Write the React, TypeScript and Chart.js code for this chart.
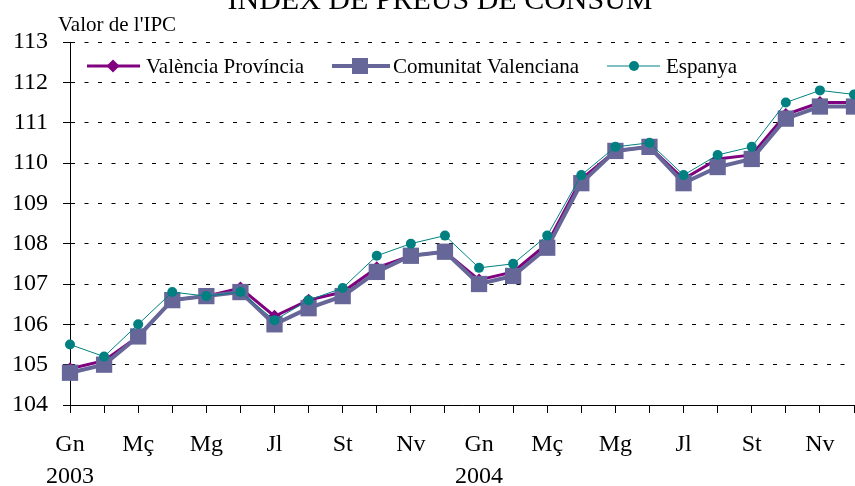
import React, { useEffect, useRef } from "react";
import { Chart, registerables } from "chart.js";

Chart.register(...registerables);

const months = ["Gn", "Fb", "Mç", "Ab", "Mg", "Jn", "Jl", "Ag", "St", "Oc", "Nv", "Dc"];
const years = ["2003", "2004"];
const categories = years.flatMap((y) => months.map((m) => `${m} ${y}`));

const valenciaProvincia = [104.9, 105.1, 105.7, 106.6, 106.7, 106.9, 106.2, 106.6, 106.8, 107.4, 107.7, 107.8, 107.1, 107.3, 108.0, 109.6, 110.3, 110.4, 109.6, 110.1, 110.2, 111.2, 111.5, 111.5];
const comunitatValenciana = [104.8, 105.0, 105.7, 106.6, 106.7, 106.8, 106.0, 106.4, 106.7, 107.3, 107.7, 107.8, 107.0, 107.2, 107.9, 109.5, 110.3, 110.4, 109.5, 109.9, 110.1, 111.1, 111.4, 111.4];
const espanya = [105.5, 105.2, 106.0, 106.8, 106.7, 106.8, 106.1, 106.6, 106.9, 107.7, 108.0, 108.2, 107.4, 107.5, 108.2, 109.7, 110.4, 110.5, 109.7, 110.2, 110.4, 111.5, 111.8, 111.7];

const titleText = "ÍNDEX DE PREUS DE CONSUM";
const yAxisTitle = "Valor de l'IPC";
const seriesNames = ["València Província", "Comunitat Valenciana", "Espanya"];

const FONT = "'Liberation Serif', 'Times New Roman', serif";
const PURPLE = "#800080";
const SLATE = "#666699";
const TEAL = "#008080";

const decorPlugin = {
  id: "decor",
  afterDraw(chart: any) {
    const ctx = chart.ctx;
    ctx.save();
    ctx.fillStyle = "#000";
    ctx.textBaseline = "alphabetic";
    ctx.font = `30px ${FONT}`;
    ctx.textAlign = "center";
    ctx.fillText(titleText, 440, 9);
    ctx.font = `21px ${FONT}`;
    ctx.textAlign = "left";
    ctx.fillText(yAxisTitle, 58, 31);

    // legend
    const ly = 66;
    ctx.textBaseline = "middle";
    // item 1
    ctx.strokeStyle = PURPLE;
    ctx.lineWidth = 3;
    ctx.beginPath();
    ctx.moveTo(87, ly);
    ctx.lineTo(140, ly);
    ctx.stroke();
    ctx.fillStyle = PURPLE;
    ctx.beginPath();
    ctx.moveTo(113 - 6.5, ly);
    ctx.lineTo(113, ly - 6.5);
    ctx.lineTo(113 + 6.5, ly);
    ctx.lineTo(113, ly + 6.5);
    ctx.closePath();
    ctx.fill();
    ctx.fillStyle = "#000";
    ctx.fillText(seriesNames[0], 146, ly + 1);
    // item 2
    ctx.strokeStyle = SLATE;
    ctx.lineWidth = 4;
    ctx.beginPath();
    ctx.moveTo(332, ly);
    ctx.lineTo(390, ly);
    ctx.stroke();
    ctx.fillStyle = SLATE;
    ctx.fillRect(360 - 8, ly - 8, 16, 16);
    ctx.fillStyle = "#000";
    ctx.fillText(seriesNames[1], 393, ly + 1);
    // item 3
    ctx.strokeStyle = TEAL;
    ctx.lineWidth = 1;
    ctx.beginPath();
    ctx.moveTo(607, ly);
    ctx.lineTo(660, ly);
    ctx.stroke();
    ctx.fillStyle = TEAL;
    ctx.beginPath();
    ctx.arc(634, ly, 5, 0, Math.PI * 2);
    ctx.fill();
    ctx.fillStyle = "#000";
    ctx.fillText(seriesNames[2], 666, ly + 1);
    ctx.restore();
  },
};

export default function App() {
  const ref = useRef<HTMLCanvasElement>(null);
  useEffect(() => {
    const canvas = ref.current;
    if (!canvas) return;
    const chart = new Chart(canvas, {
      type: "line",
      data: {
        labels: categories,
        datasets: [
          {
            label: seriesNames[2],
            data: espanya,
            borderColor: TEAL,
            backgroundColor: TEAL,
            borderWidth: 1,
            pointStyle: "circle",
            pointRadius: 5,
            pointBorderWidth: 0,
            pointBackgroundColor: TEAL,
            tension: 0,
            clip: false,
            order: 0,
          },
          {
            label: seriesNames[1],
            data: comunitatValenciana,
            borderColor: SLATE,
            backgroundColor: SLATE,
            borderWidth: 4,
            pointStyle: "rect",
            pointRadius: 11.5,
            pointBorderWidth: 0,
            pointBackgroundColor: SLATE,
            tension: 0,
            clip: false,
            order: 1,
          },
          {
            label: seriesNames[0],
            data: valenciaProvincia,
            borderColor: PURPLE,
            backgroundColor: PURPLE,
            borderWidth: 3,
            pointStyle: "rectRot",
            pointRadius: 6.5,
            pointBorderWidth: 0,
            pointBackgroundColor: PURPLE,
            tension: 0,
            clip: false,
            order: 2,
          },
        ],
      },
      options: {
        responsive: false,
        animation: false,
        layout: { autoPadding: false, padding: { top: 42, right: 1, left: 0, bottom: 0 } },
        plugins: {
          legend: { display: false },
          title: { display: false },
          tooltip: { enabled: false },
        },
        scales: {
          x: {
            type: "category",
            offset: false,
            afterFit: (scale: any) => {
              scale.height = 81;
              scale.paddingLeft = 0;
              scale.paddingRight = 0;
            },
            grid: {
              drawOnChartArea: false,
              drawTicks: true,
              tickLength: 8,
              color: "#000",
              lineWidth: 1,
            },
            border: { display: true, color: "#000", width: 1 },
            ticks: {
              autoSkip: false,
              maxRotation: 0,
              minRotation: 0,
              padding: 16,
              color: "#000",
              font: { family: FONT, size: 24, lineHeight: 1.333 },
              callback: (_v: any, i: number) => {
                if (i % 2 !== 0) return "";
                const m = months[i % 12];
                if (i % 12 === 0) return [m, years[Math.floor(i / 12)]];
                return m;
              },
            },
          },
          y: {
            min: 104,
            max: 113,
            afterFit: (scale: any) => {
              scale.width = 70;
              scale.paddingTop = 0;
              scale.paddingBottom = 0;
            },
            grid: {
              drawOnChartArea: true,
              drawTicks: true,
              tickLength: 7,
              color: "#000",
              lineWidth: 1,
              tickBorderDash: [],
            },
            border: { display: true, color: "#000", width: 1, dash: [4, 9.5] },
            ticks: {
              stepSize: 1,
              padding: 15,
              color: "#000",
              font: { family: FONT, size: 24 },
            },
          },
        },
      },
      plugins: [decorPlugin],
    });
    return () => chart.destroy();
  }, []);
  return (
    <div style={{ position: "absolute", left: 0, top: 0, width: 855, height: 486, background: "#fff" }}>
      <canvas ref={ref} width={855} height={486} style={{ display: "block" }} />
    </div>
  );
}
